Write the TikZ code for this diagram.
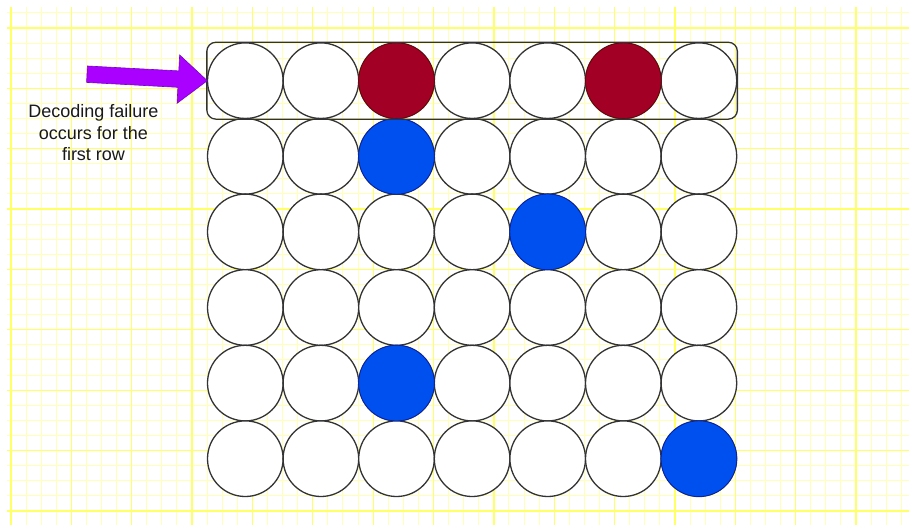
\documentclass[tikz,border=0pt]{standalone}
\usepackage{fontspec}
\setmainfont{Liberation Sans}
\usetikzlibrary{fit}
\definecolor{gridminor}{HTML}{FFFFB8}
\definecolor{gridmajor}{HTML}{FFFF66}
\definecolor{redfill}{HTML}{A20025}
\definecolor{redline}{HTML}{6F0000}
\definecolor{bluefill}{HTML}{0050EF}
\definecolor{blueline}{HTML}{001DBC}
\definecolor{violetfill}{HTML}{AA00FF}
\definecolor{violetline}{HTML}{7700CC}
\definecolor{edge}{HTML}{333333}
\tikzset{
  cell/.style={circle, draw=edge, line width=1.3pt, fill=white, minimum size=75.6pt, inner sep=0pt},
  redcell/.style={cell, fill=redfill, draw=redline, line width=0.6pt},
  bluecell/.style={cell, fill=bluefill, draw=blueline, line width=0.6pt},
  rowbox/.style={draw=edge, line width=1.3pt, rounded corners=9pt, inner sep=0pt},
  label/.style={align=center, font=\fontsize{18}{21.5}\selectfont, text=black!90, inner sep=0pt},
  blockarrow/.style={fill=violetfill, draw=violetline, line width=0.6pt, line join=miter}
}
\begin{document}
\begin{tikzpicture}[x=1pt, y=-1pt]
\useasboundingbox (0,0) rectangle (909,525);
\fill[white] (0,0) rectangle (909,525);
% grid
\begin{scope}
\clip (7,7) rectangle (909,525);
\foreach \i in {0,...,59} {
  \pgfmathtruncatemacro{\m}{mod(\i,4)}
  \ifnum\m=0\relax\else
    \draw[gridminor, line width=1pt] ({11+15.09*\i},7) -- ({11+15.09*\i},525);
  \fi
}
\foreach \j in {0,...,33} {
  \pgfmathtruncatemacro{\m}{mod(\j,4)}
  \ifnum\m=1\relax\else
    \draw[gridminor, line width=1pt] (7,{12.9+15.09*\j}) -- (909,{12.9+15.09*\j});
  \fi
}
\foreach \i in {0,4,...,56} {
  \draw[gridmajor, line width=1.3pt] ({11+15.09*\i},7) -- ({11+15.09*\i},525);
}
\foreach \j in {1,5,...,33} {
  \draw[gridmajor, line width=1.3pt] (7,{12.9+15.09*\j}) -- (909,{12.9+15.09*\j});
}
\end{scope}
% circles
\foreach \r in {1,...,6} {
  \foreach \c in {1,...,7} {
    \node[cell] (c\r\c) at ({245.3+75.6*(\c-1)},{80.7+75.6*(\r-1)}) {};
  }
}
\node[redcell] (c13) at (c13) {};
\node[redcell] (c16) at (c16) {};
\node[bluecell] (c23) at (c23) {};
\node[bluecell] (c35) at (c35) {};
\node[bluecell] (c53) at (c53) {};
\node[bluecell] (c67) at (c67) {};
% first row box
\node[rowbox, fit=(c11)(c17)] (row1) {};
% arrow
\draw[blockarrow] (87.4,66.0) -- (178.8,70.9) -- (179.65,54.97) -- (207.3,80.7) -- (177.05,103.3) -- (177.9,87.3) -- (86.6,82.4) -- cycle;
% label
\node[label] (lbl) at (93.5,133) {Decoding failure\\occurs for the\\first row};
\end{tikzpicture}
\end{document}
